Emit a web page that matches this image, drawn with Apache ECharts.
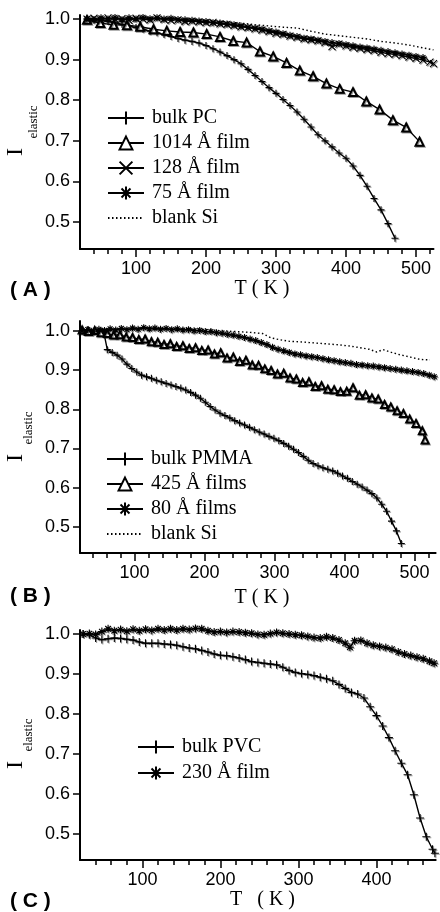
<!DOCTYPE html>
<html><head><meta charset="utf-8">
<style>html,body{margin:0;padding:0;background:#fff}#c{width:440px;height:912px}</style>
<script src="https://cdn.jsdelivr.net/npm/echarts@6/dist/echarts.min.js"></script>
</head><body><div id="c"></div>
<script>
// ---------- tick labels ----------
const yTicks = [0.5, 0.6, 0.7, 0.8, 0.9, 1.0];
const xMajorAB = [100, 200, 300, 400, 500];
const xMinorAB = [40,60,80,100,120,140,160,180,200,220,240,260,280,300,320,340,360,380,400,420,440,460,480,500,520];
const xMajorC = [100, 200, 300, 400];
const xMinorC = [40,60,80,100,120,140,160,180,200,220,240,260,280,300,320,340,360,380,400,420,440,460];

// ---------- panel A ----------
const pcT = [30,40,50,60,70,80,90,100,110,120,130,140,150,160,170,180,190,200,210,220,230,240,250,260,270,280,290,300,310,320,330,340,350,360,370,380,390,400,410,420,430,440,450,460,470];
const pcI = [1.000,0.999,0.997,0.994,0.991,0.987,0.983,0.979,0.975,0.970,0.966,0.962,0.957,0.952,0.948,0.945,0.941,0.935,0.927,0.919,0.910,0.900,0.890,0.876,0.861,0.846,0.831,0.817,0.802,0.787,0.771,0.753,0.734,0.715,0.700,0.685,0.670,0.657,0.638,0.615,0.588,0.558,0.530,0.496,0.460];
const f1014T = [30,49,68,87,106,125,144,163,182,201,220,239,258,277,296,315,334,353,372,391,410,429,448,467,486,505];
const f1014I = [0.998,0.990,0.986,0.985,0.981,0.975,0.971,0.968,0.967,0.963,0.956,0.946,0.942,0.920,0.908,0.892,0.873,0.859,0.841,0.828,0.820,0.797,0.777,0.751,0.733,0.698];
const f128T = [30,40,50,60,70,80,90,100,110,120,130,140,150,160,170,180,190,200,210,220,230,240,250,260,270,280,290,300,310,320,330,340,350,360,370,380,390,400,410,420,430,440,450,460,470,480,490,500,510,520,525];
const f128I = [1.000,1.002,0.998,1.003,0.999,1.001,0.997,1.002,1.000,0.998,1.003,0.999,0.997,0.998,0.994,0.995,0.993,0.991,0.992,0.988,0.987,0.984,0.981,0.979,0.976,0.973,0.969,0.965,0.962,0.958,0.955,0.951,0.949,0.946,0.942,0.932,0.938,0.934,0.930,0.928,0.925,0.922,0.918,0.915,0.913,0.910,0.906,0.903,0.899,0.894,0.890];
const f75T = [30,40,50,60,70,80,90,100,110,120,130,140,150,160,170,180,190,200,210,220,230,240,250,260,270,280,290,300,310,320,330,340,350,360,370,380,390,400,410,420,430,440,450,460,470,480,490,500,510];
const f75I = [1.000,0.997,1.003,1.000,1.004,0.998,1.003,1.000,1.004,1.001,1.003,1.000,1.002,0.999,0.998,0.997,0.995,0.994,0.991,0.990,0.988,0.986,0.983,0.980,0.978,0.975,0.971,0.968,0.964,0.960,0.957,0.953,0.951,0.948,0.945,0.942,0.940,0.937,0.934,0.931,0.929,0.926,0.923,0.920,0.917,0.914,0.911,0.908,0.905];
const siAT = [30,50,70,90,110,130,150,170,190,210,230,250,270,290,310,330,350,370,390,410,430,450,470,490,510,525];
const siAI = [1.000,1.001,1.000,1.002,1.001,1.000,1.001,0.999,0.998,0.996,0.993,0.990,0.986,0.983,0.980,0.978,0.970,0.963,0.959,0.955,0.951,0.945,0.941,0.936,0.929,0.924];

// ---------- panel B ----------
const pmT = [26,32,38,44,50,56,61,68,75,82,89,96,103,110,117,124,131,138,145,152,159,166,173,180,187,194,201,208,215,222,229,236,243,250,257,264,271,278,285,292,299,306,313,320,327,334,341,348,355,362,369,376,383,390,397,404,411,418,425,432,439,446,453,460,467,474,481];
const pmI = [1.000,1.002,0.999,1.001,0.998,0.996,0.952,0.945,0.938,0.928,0.915,0.904,0.895,0.887,0.883,0.879,0.874,0.870,0.866,0.862,0.858,0.854,0.849,0.843,0.836,0.828,0.818,0.807,0.798,0.790,0.784,0.778,0.771,0.765,0.760,0.754,0.748,0.742,0.737,0.731,0.726,0.720,0.713,0.706,0.698,0.690,0.680,0.670,0.662,0.656,0.651,0.647,0.643,0.637,0.630,0.624,0.616,0.609,0.602,0.594,0.585,0.574,0.558,0.540,0.515,0.490,0.458];
const f425T = [25,34,43,52,61,70,79,88,97,106,115,124,133,142,151,160,169,178,187,196,205,214,223,232,241,250,259,268,277,286,295,304,313,322,331,340,349,358,367,376,385,394,403,412,421,430,439,448,457,466,475,484,493,502,511,515];
const f425I = [1.002,0.998,1.001,0.995,0.993,0.989,0.990,0.984,0.983,0.978,0.979,0.972,0.971,0.965,0.967,0.960,0.962,0.955,0.957,0.950,0.951,0.941,0.944,0.931,0.933,0.922,0.925,0.913,0.912,0.903,0.899,0.890,0.892,0.880,0.877,0.868,0.870,0.858,0.860,0.851,0.850,0.845,0.846,0.855,0.836,0.837,0.829,0.826,0.812,0.806,0.796,0.789,0.775,0.764,0.745,0.722];
const f80T = [25,33,41,49,57,65,73,81,89,97,105,113,121,129,137,145,153,161,169,177,185,193,201,209,217,225,233,241,249,257,265,273,281,289,297,305,313,321,329,337,345,353,361,369,377,385,393,401,409,417,425,433,441,449,457,465,473,481,489,497,505,513,521,528];
const f80I = [1.000,1.003,0.999,1.004,1.001,1.005,1.002,1.006,1.003,1.007,1.004,1.008,1.005,1.007,1.004,1.006,1.003,1.005,1.002,1.003,1.000,1.001,0.998,0.998,0.995,0.994,0.991,0.989,0.986,0.983,0.979,0.975,0.970,0.965,0.958,0.953,0.949,0.945,0.941,0.939,0.936,0.934,0.932,0.929,0.926,0.924,0.921,0.919,0.917,0.914,0.913,0.911,0.910,0.908,0.906,0.904,0.902,0.900,0.898,0.896,0.894,0.891,0.887,0.883];
const siBT = [25,45,65,85,105,125,145,165,185,205,225,245,265,283,295,308,322,336,350,365,380,393,408,422,435,446,455,467,479,494,508,522];
const siBI = [1.002,1.004,1.005,1.006,1.007,1.008,1.007,1.006,1.005,1.003,1.000,0.998,0.996,0.993,0.982,0.977,0.973,0.972,0.970,0.968,0.966,0.964,0.961,0.957,0.953,0.946,0.952,0.945,0.939,0.933,0.927,0.926];

// ---------- panel C ----------
const pvcT = [24,32,40,48,56,64,72,80,88,96,104,112,120,128,136,144,152,160,168,176,184,192,200,208,216,224,232,240,248,256,264,272,280,288,296,304,312,320,328,336,344,352,360,368,376,384,392,400,408,416,424,432,440,448,456,464,472,475];
const pvcI = [1.000,0.998,0.990,0.986,0.988,0.990,0.989,0.987,0.985,0.980,0.977,0.977,0.977,0.975,0.974,0.972,0.968,0.965,0.963,0.959,0.955,0.950,0.947,0.946,0.943,0.940,0.936,0.931,0.929,0.927,0.925,0.923,0.917,0.909,0.904,0.901,0.899,0.896,0.892,0.888,0.883,0.874,0.864,0.854,0.850,0.840,0.818,0.796,0.770,0.741,0.708,0.677,0.648,0.598,0.540,0.493,0.462,0.452];
const f230T = [24,32,40,48,56,64,72,80,88,96,104,112,120,128,136,144,152,160,168,176,184,192,200,208,216,224,232,240,248,256,264,272,280,288,296,304,312,320,328,336,344,352,360,366,372,380,388,396,404,412,420,428,436,444,452,460,468,474];
const f230I = [1.000,1.001,0.999,1.006,1.013,1.008,1.011,1.007,1.012,1.008,1.012,1.009,1.013,1.010,1.013,1.010,1.013,1.011,1.014,1.013,1.008,1.005,1.006,1.004,1.006,1.005,1.003,1.002,0.999,0.998,1.001,1.004,1.002,1.000,0.998,0.997,0.994,0.991,0.990,0.993,0.990,0.985,0.977,0.967,0.983,0.984,0.977,0.972,0.969,0.966,0.962,0.955,0.950,0.946,0.942,0.938,0.932,0.927];

// ---------- styling ----------
const PLUS = 'path://M0,5L10,5M5,0L5,10';
const CROSS = 'path://M0,0L10,10M0,10L10,0';
const STAR = 'path://M5,0L5,10M0,5L10,5M1.5,1.5L8.5,8.5M1.5,8.5L8.5,1.5';
const SANS = 'Liberation Sans';
const SERIF = 'Liberation Serif';
const zip = (t, v) => t.map((x, i) => [x, v[i]]);

const panels = [
  {top: 15, height: 234, xmin: 20, xmax: 525, ymin: 0.4335, ymax: 1.01, major: xMajorAB, minor: xMinorAB, ppk: 0.7},
  {top: 321, height: 232, xmin: 22, xmax: 530, ymin: 0.4337, ymax: 1.025, major: xMajorAB, minor: xMinorAB, ppk: 0.7},
  {top: 630, height: 230, xmin: 20, xmax: 476, ymin: 0.435, ymax: 1.01, major: xMajorC, minor: xMinorC, ppk: 0.78}
];

const grid = [], xAxis = [], yAxis = [];
panels.forEach((p, i) => {
  grid.push({left: 80, top: p.top, height: p.height, width: (p.xmax - p.xmin) * p.ppk, containLabel: false});
  xAxis.push({
    type: 'value', gridIndex: i, min: p.xmin, max: p.xmax, position: 'bottom',
    axisLine: {show: true, onZero: false, lineStyle: {color: '#000', width: 2}},
    axisTick: {show: true, length: 5, lineStyle: {color: '#000', width: 1.5}, customValues: p.minor},
    axisLabel: {show: false}, splitLine: {show: false}
  });
  xAxis.push({
    type: 'value', gridIndex: i, min: p.xmin, max: p.xmax, position: 'bottom',
    axisLine: {show: false},
    axisTick: {show: true, length: 8, lineStyle: {color: '#000', width: 1.5}, customValues: p.major},
    axisLabel: {show: true, customValues: p.major, color: '#000', fontFamily: SANS, fontSize: 18, margin: 11},
    splitLine: {show: false}
  });
  yAxis.push({
    type: 'value', gridIndex: i, min: p.ymin, max: p.ymax,
    axisLine: {show: true, onZero: false, lineStyle: {color: '#000', width: 2}},
    axisTick: {show: true, length: 7, lineStyle: {color: '#000', width: 1.5}, customValues: yTicks},
    axisLabel: {show: true, customValues: yTicks, formatter: v => v.toFixed(1), color: '#000', fontFamily: SANS, fontSize: 18, margin: 10},
    splitLine: {show: false}
  });
});

function mk(name, t, v, panel, symbol, size, extra) {
  const s = {
    name, type: 'line', xAxisIndex: panel * 2, yAxisIndex: panel,
    data: zip(t, v), symbol, symbolSize: size, showSymbol: true, showAllSymbol: true,
    clip: false, animation: false, silent: true,
    lineStyle: {color: '#000', width: 1.4},
    itemStyle: {color: '#000', borderColor: '#000', borderWidth: 1.1,
      shadowColor: 'rgba(0,0,0,0.4)', shadowOffsetX: 1, shadowOffsetY: 1, shadowBlur: 0},
    emphasis: {disabled: true}
  };
  return Object.assign(s, extra || {});
}
const dotted = (name, t, v, panel) => mk(name, t, v, panel, 'circle', 0, {
  showSymbol: false, lineStyle: {color: '#000', width: 1.4, type: [1.5, 2.5]}
});

const series = [
  mk('bulk PC', pcT, pcI, 0, PLUS, 7),
  mk('1014 Å film', f1014T, f1014I, 0, 'emptyTriangle', 8),
  mk('128 Å film', f128T, f128I, 0, CROSS, 7),
  mk('75 Å film', f75T, f75I, 0, STAR, 7),
  dotted('blank Si', siAT, siAI, 0),
  mk('bulk PMMA', pmT, pmI, 1, PLUS, 7),
  mk('425 Å films', f425T, f425I, 1, 'emptyTriangle', 7),
  mk('80 Å films', f80T, f80I, 1, STAR, 7),
  dotted('blank Si', siBT, siBI, 1),
  mk('bulk PVC', pvcT, pvcI, 2, PLUS, 8),
  mk('230 Å film', f230T, f230I, 2, STAR, 8)
];

const legendBase = {
  orient: 'vertical', itemWidth: 36, itemHeight: 16, itemGap: 5, padding: 0, selectedMode: false,
  textStyle: {fontFamily: SERIF, fontSize: 20, color: '#000', lineHeight: 18, padding: [0, 0, 0, 3]}
};
const siItem = {name: 'blank Si', itemStyle: {opacity: 0}};
const legend = [
  Object.assign({}, legendBase, {left: 107, top: 108, data: ['bulk PC', '1014 Å film', '128 Å film', '75 Å film', siItem]}),
  Object.assign({}, legendBase, {left: 106, top: 449, data: ['bulk PMMA', '425 Å films', '80 Å films', siItem]}),
  Object.assign({}, legendBase, {left: 137, top: 737, itemGap: 6, data: ['bulk PVC', '230 Å film']})
];

function txt(x, y, text, font, align, rot) {
  return {type: 'text', x, y, rotation: rot || 0, silent: true,
    style: {text, font, fill: '#000', textAlign: align || 'left', textVerticalAlign: 'middle'}};
}
const graphic = [
  txt(10, 290, '( A )', 'bold 21px "Liberation Sans"'),
  txt(10, 596, '( B )', 'bold 21px "Liberation Sans"'),
  txt(10, 901, '( C )', 'bold 21px "Liberation Sans"'),
  txt(262, 289, 'T ( K )', '20px "Liberation Serif"', 'center'),
  txt(262, 598, 'T ( K )', '20px "Liberation Serif"', 'center'),
  txt(230, 900, 'T   ( K )', '20px "Liberation Serif"', 'left'),
  txt(16, 152, 'I', '24px "Liberation Serif"', 'center', Math.PI / 2),
  txt(34, 122, 'elastic', '13px "Liberation Serif"', 'center', Math.PI / 2),
  txt(16, 458, 'I', '24px "Liberation Serif"', 'center', Math.PI / 2),
  txt(29, 428, 'elastic', '13px "Liberation Serif"', 'center', Math.PI / 2),
  txt(16, 765, 'I', '24px "Liberation Serif"', 'center', Math.PI / 2),
  txt(29, 735, 'elastic', '13px "Liberation Serif"', 'center', Math.PI / 2)
];

const chart = echarts.init(document.getElementById('c'), null, {renderer: 'canvas'});
chart.setOption({animation: false, backgroundColor: '#fff', grid, xAxis, yAxis, series, legend, graphic});
</script></body></html>
